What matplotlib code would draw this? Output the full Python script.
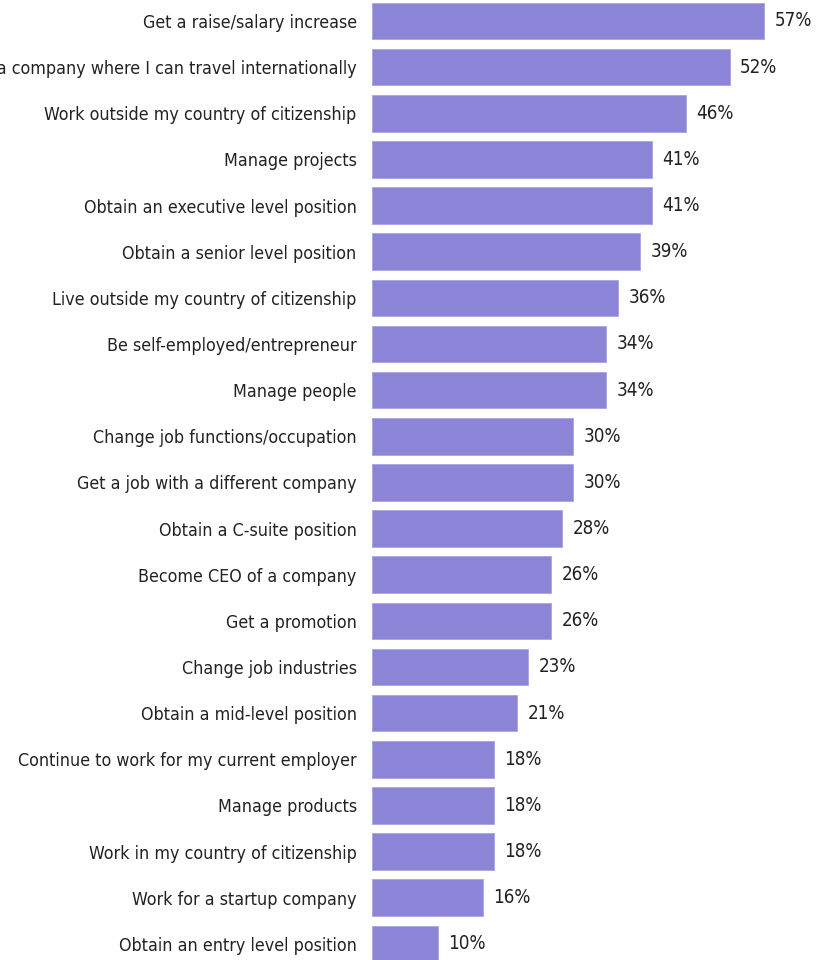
import matplotlib.pyplot as plt

categories = [
    "Get a raise/salary increase",
    "Work for a company where I can travel internationally",
    "Work outside my country of citizenship",
    "Manage projects",
    "Obtain an executive level position",
    "Obtain a senior level position",
    "Live outside my country of citizenship",
    "Be self-employed/entrepreneur",
    "Manage people",
    "Change job functions/occupation",
    "Get a job with a different company",
    "Obtain a C-suite position",
    "Become CEO of a company",
    "Get a promotion",
    "Change job industries",
    "Obtain a mid-level position",
    "Continue to work for my current employer",
    "Manage products",
    "Work in my country of citizenship",
    "Work for a startup company",
    "Obtain an entry level position",
]
values = [57.0, 52.0, 45.6, 40.7, 40.7, 39.0, 35.8, 34.0, 34.0, 29.2, 29.2,
          27.6, 26.0, 26.0, 22.7, 21.1, 17.7, 17.7, 17.7, 16.1, 9.6]
value_labels = ["57%", "52%", "46%", "41%", "41%", "39%", "36%", "34%", "34%",
                "30%", "30%", "28%", "26%", "26%", "23%", "21%", "18%", "18%",
                "18%", "16%", "10%"]

bar_color = "#8b84d7"
text_color = "#222222"
font = dict(family="DejaVu Sans", stretch="condensed")

fig = plt.figure(figsize=(8.17, 9.6), dpi=100)
ax = fig.add_axes([372 / 817, 0, 1 - 372 / 817, 1])

pos = list(range(len(categories)))
bars = ax.barh(pos, values, height=0.79, color=bar_color,
               edgecolor="#a9a3e3", linewidth=0.6)

for rect, lab in zip(bars, value_labels):
    ax.annotate(lab, (rect.get_width(), rect.get_y() + rect.get_height() / 2),
                xytext=(7.5, 0), textcoords="offset points", va="center",
                ha="left", fontsize=13.5, color=text_color, **font)

ax.set_xlim(0, 445 / 6.88)
ax.set_ylim(len(categories) - 1 + 0.35, -0.455)
ax.set_yticks(pos)
ax.set_yticklabels(categories, fontsize=12.8, color=text_color, **font)
ax.tick_params(axis="y", length=0, pad=11)
ax.set_xticks([])
for s in ax.spines.values():
    s.set_visible(False)

fig.savefig("out.png", dpi=100)
